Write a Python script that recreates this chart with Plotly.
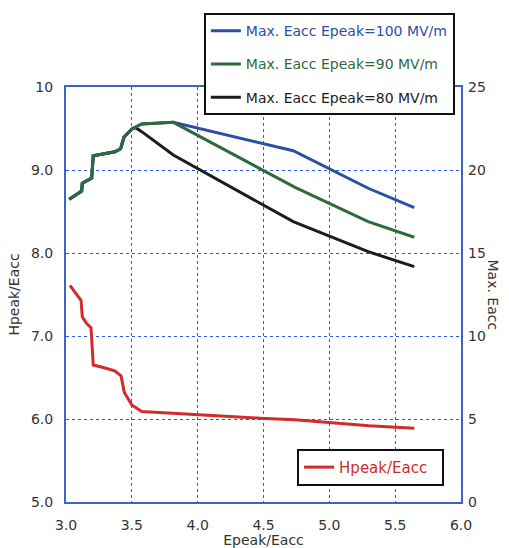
import plotly.graph_objects as go

# Data
red_x = [3.03, 3.114, 3.124, 3.157, 3.19, 3.207, 3.283, 3.33, 3.37, 3.418, 3.443, 3.5, 3.575, 4.47, 4.74, 5.3, 5.645]
red_y = [7.61, 7.43, 7.23, 7.15, 7.10, 6.65, 6.62, 6.60, 6.58, 6.52, 6.32, 6.17, 6.09, 6.01, 5.99, 5.92, 5.89]

base_x = [3.025, 3.119, 3.124, 3.195, 3.207, 3.372, 3.415, 3.44, 3.5]
base_y = [18.24, 18.73, 19.2, 19.52, 20.86, 21.1, 21.28, 21.97, 22.47]

green_x = base_x + [3.575, 3.815, 4.74, 5.295, 5.645]
green_y = base_y + [22.77, 22.87, 18.95, 16.89, 15.95]

blue_x = base_x + [3.575, 3.815, 4.726, 5.295, 5.645]
blue_y = base_y + [22.77, 22.87, 21.16, 18.9, 17.73]

black_x = base_x + [3.53, 3.575, 3.815, 4.726, 5.295, 5.645]
black_y = base_y + [22.55, 22.31, 20.9, 16.89, 15.08, 14.18]

x_ticks = [3.0, 3.5, 4.0, 4.5, 5.0, 5.5, 6.0]
x_ticklabels = ["3.0", "3.5", "4.0", "4.5", "5.0", "5.5", "6.0"]
yl_ticks = [5, 6, 7, 8, 9, 10]
yl_ticklabels = ["5.0", "6.0", "7.0", "8.0", "9.0", "10"]
yr_ticks = [0, 5, 10, 15, 20, 25]

BLUE = "#2a4fa6"
GREEN = "#2f6a3c"
BLACK = "#1c1c1c"
RED = "#d22b2b"
AXIS = "#3f63c4"
GRID = "#2c5ae0"
FONT = "DejaVu Sans"

fig = go.Figure()

def nm(txt, col):
    return f"<span style='color:{col}'>{txt}</span>"

fig.add_trace(go.Scatter(x=black_x, y=black_y, mode="lines", yaxis="y2",
                         line=dict(color=BLACK, width=3), legendgroup="c", legendrank=3,
                         name=nm("Max. Eacc Epeak=80 MV/m", BLACK), legend="legend"))
fig.add_trace(go.Scatter(x=blue_x, y=blue_y, mode="lines", yaxis="y2",
                         line=dict(color=BLUE, width=3), legendgroup="a", legendrank=1,
                         name=nm("Max. Eacc Epeak=100 MV/m", BLUE), legend="legend"))
fig.add_trace(go.Scatter(x=green_x, y=green_y, mode="lines", yaxis="y2",
                         line=dict(color=GREEN, width=3), legendgroup="b", legendrank=2,
                         name=nm("Max. Eacc Epeak=90 MV/m", GREEN), legend="legend"))
fig.add_trace(go.Scatter(x=red_x, y=red_y, mode="lines", yaxis="y",
                         line=dict(color=RED, width=3),
                         name=nm("Hpeak/Eacc&nbsp;&nbsp;", RED), legend="legend2"))

fig.update_layout(
    width=509, height=548,
    margin=dict(l=66, r=48, t=87, b=46, autoexpand=False),
    paper_bgcolor="white", plot_bgcolor="white",
    font=dict(family=FONT, size=13, color="#333333"),
    xaxis=dict(range=[3.0, 6.0], tickvals=x_ticks, ticktext=x_ticklabels,
               showgrid=True, gridcolor=GRID, griddash="dot", gridwidth=1,
               showline=True, linecolor=AXIS, linewidth=2, mirror=True, automargin=False,
               zeroline=False, ticks="", tickfont=dict(size=14), ticklabelstandoff=9,
               title=dict(text="Epeak/Eacc", font=dict(size=14), standoff=8)),
    yaxis=dict(range=[5, 10], tickvals=yl_ticks, ticktext=yl_ticklabels,
               showgrid=True, gridcolor=GRID, griddash="dot", gridwidth=1,
               showline=True, linecolor=AXIS, linewidth=2, mirror=True, automargin=False,
               zeroline=False, ticks="", tickfont=dict(size=14), ticklabelstandoff=8,
               title=dict(text="Hpeak/Eacc", font=dict(size=14), standoff=8)),
    yaxis2=dict(range=[0, 25], tickvals=yr_ticks, overlaying="y", side="right",
                showgrid=False, showline=False, zeroline=False, ticks="", automargin=False,
                tickfont=dict(size=14), ticklabelstandoff=6),
    legend=dict(x=0.349, y=1.178, xanchor="left", yanchor="top",
                bordercolor="#111111", borderwidth=2, bgcolor="white",
                font=dict(size=14, family=FONT), tracegroupgap=12,
                traceorder="grouped"),
    legend2=dict(x=0.585, y=0.128, xanchor="left", yanchor="top",
                 bordercolor="#111111", borderwidth=2, bgcolor="white",
                 font=dict(size=15, family=FONT)),
    showlegend=True,
    annotations=[dict(text="Max. Eacc", textangle=90, x=1.0, xref="paper",
                      xshift=42, y=0.5, yref="paper", showarrow=False,
                      font=dict(size=14, family=FONT, color="#333333"))],
)

fig.write_html("out.html")
